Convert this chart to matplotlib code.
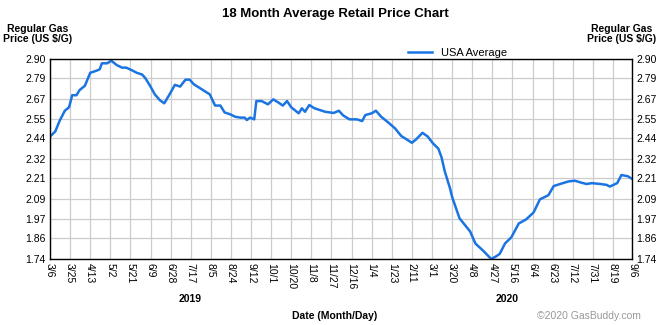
import matplotlib
matplotlib.use("Agg")
import matplotlib.pyplot as plt
import pandas as pd

plt.rcParams["font.family"] = ["Liberation Sans", "DejaVu Sans"]

# ---- data (USA average regular gas, $/gal) ----
DATES = [
    "2019-03-06", "2019-03-11", "2019-03-15", "2019-03-20", "2019-03-24", "2019-03-27",
    "2019-03-31", "2019-04-03", "2019-04-08", "2019-04-13", "2019-04-18", "2019-04-22",
    "2019-04-24", "2019-04-29", "2019-05-03", "2019-05-08", "2019-05-13", "2019-05-17",
    "2019-05-22", "2019-05-27", "2019-06-01", "2019-06-04", "2019-06-09", "2019-06-13",
    "2019-06-18", "2019-06-22", "2019-06-27", "2019-07-02", "2019-07-07", "2019-07-12",
    "2019-07-16", "2019-07-20", "2019-07-26", "2019-07-30", "2019-08-04", "2019-08-09",
    "2019-08-14", "2019-08-18", "2019-08-23", "2019-08-28", "2019-09-02", "2019-09-06",
    "2019-09-08", "2019-09-11", "2019-09-15", "2019-09-17", "2019-09-22", "2019-09-28",
    "2019-10-03", "2019-10-08", "2019-10-12", "2019-10-16", "2019-10-20", "2019-10-27",
    "2019-10-30", "2019-11-02", "2019-11-06", "2019-11-11", "2019-11-16", "2019-11-21",
    "2019-11-29", "2019-12-04", "2019-12-08", "2019-12-14", "2019-12-21", "2019-12-26",
    "2019-12-29", "2020-01-04", "2020-01-08", "2020-01-13", "2020-01-20", "2020-01-26",
    "2020-02-01", "2020-02-06", "2020-02-11", "2020-02-15", "2020-02-21", "2020-02-26",
    "2020-03-02", "2020-03-07", "2020-03-10", "2020-03-13", "2020-03-15", "2020-03-18",
    "2020-03-20", "2020-03-27", "2020-04-06", "2020-04-11", "2020-04-18", "2020-04-26",
    "2020-05-01", "2020-05-04", "2020-05-09", "2020-05-15", "2020-05-22", "2020-05-29",
    "2020-06-05", "2020-06-11", "2020-06-19", "2020-06-24", "2020-06-30", "2020-07-08",
    "2020-07-14", "2020-07-20", "2020-07-25", "2020-07-30", "2020-08-07", "2020-08-13",
    "2020-08-16", "2020-08-23", "2020-08-27", "2020-09-02", "2020-09-06",
]
PRICES = [
    2.45, 2.48, 2.54, 2.60, 2.62, 2.69,
    2.69, 2.72, 2.745, 2.82, 2.83, 2.84,
    2.875, 2.875, 2.89, 2.865, 2.85, 2.85,
    2.836, 2.82, 2.81, 2.79, 2.74, 2.695,
    2.66, 2.643, 2.695, 2.75, 2.74, 2.78,
    2.78, 2.753, 2.73, 2.714, 2.695, 2.63,
    2.63, 2.59, 2.58, 2.565, 2.56, 2.56,
    2.546, 2.56, 2.55, 2.656, 2.656, 2.637,
    2.666, 2.647, 2.63, 2.656, 2.62, 2.585,
    2.614, 2.594, 2.633, 2.614, 2.604, 2.594,
    2.587, 2.60, 2.573, 2.55, 2.55, 2.54,
    2.575, 2.585, 2.60, 2.565, 2.53, 2.498,
    2.453, 2.434, 2.414, 2.434, 2.472, 2.45,
    2.41, 2.38, 2.33, 2.25, 2.21, 2.15,
    2.10, 1.976, 1.90, 1.83, 1.79, 1.74,
    1.757, 1.77, 1.83, 1.866, 1.946, 1.97,
    2.01, 2.086, 2.11, 2.163, 2.175, 2.19,
    2.194, 2.183, 2.175, 2.18, 2.175, 2.17,
    2.16, 2.18, 2.227, 2.22, 2.205,
]
Y_TICKS = [1.74, 1.86, 1.97, 2.09, 2.21, 2.32, 2.44, 2.55, 2.67, 2.79, 2.90]
X_TICK_DATES = pd.date_range("2019-03-06", "2020-08-19", freq="19D").append(
    pd.DatetimeIndex(["2020-09-06"]))

dates = pd.to_datetime(DATES)
BLUE = "#1a74e2"

fig = plt.figure(figsize=(6.7, 3.25), dpi=100)
ax = fig.add_axes([50 / 670, 66 / 325, 582 / 670, 200 / 325])

ax.plot(dates, PRICES, color=BLUE, linewidth=1.8, label="USA Average")

ax.set_xlim(pd.Timestamp("2019-03-06"), pd.Timestamp("2020-09-06"))
ax.set_ylim(Y_TICKS[0], Y_TICKS[-1])
ax.set_yticks(Y_TICKS)
ax.set_yticklabels([f"{v:.2f}" for v in Y_TICKS])
ax.set_xticks(X_TICK_DATES)
ax.set_xticklabels([f"{d.month}/{d.day}" for d in X_TICK_DATES], rotation=-90, fontsize=7.5)
ax.tick_params(axis="both", length=0, pad=3, labelsize=7.5)
ax.tick_params(axis="y", labelright=True, right=False)

ax.grid(color="#cccccc", linewidth=0.9)
ax.set_axisbelow(True)
for s in ax.spines.values():
    s.set_color("black")
    s.set_linewidth(1.0)

ax.legend(loc="lower center", bbox_to_anchor=(0.70, 0.985), frameon=False,
          fontsize=8, handlelength=2.2, borderaxespad=0)

fig.text(0.5, 1 - 14 / 325, "18 Month Average Retail Price Chart",
         ha="center", va="center", fontsize=9.5, fontweight="bold")
fig.text(38 / 670, 1 - 34 / 325, "Regular Gas\nPrice (US $/G)", ha="center",
         va="center", fontsize=7.5, fontweight="bold", linespacing=1.1)
fig.text(622 / 670, 1 - 34 / 325, "Regular Gas\nPrice (US $/G)", ha="center",
         va="center", fontsize=7.5, fontweight="bold", linespacing=1.1)
fig.text(190 / 670, 1 - 299 / 325, "2019", ha="center", va="center",
         fontsize=7.5, fontweight="bold")
fig.text(507 / 670, 1 - 299 / 325, "2020", ha="center", va="center",
         fontsize=7.5, fontweight="bold")
fig.text(0.5, 1 - 316 / 325, "Date (Month/Day)", ha="center", va="center",
         fontsize=7.5, fontweight="bold")
fig.text(641 / 670, 1 - 316 / 325, "\u00a92020 GasBuddy.com", ha="right",
         va="center", fontsize=7.5, color="#999999")

fig.savefig("out.png", dpi=100)
